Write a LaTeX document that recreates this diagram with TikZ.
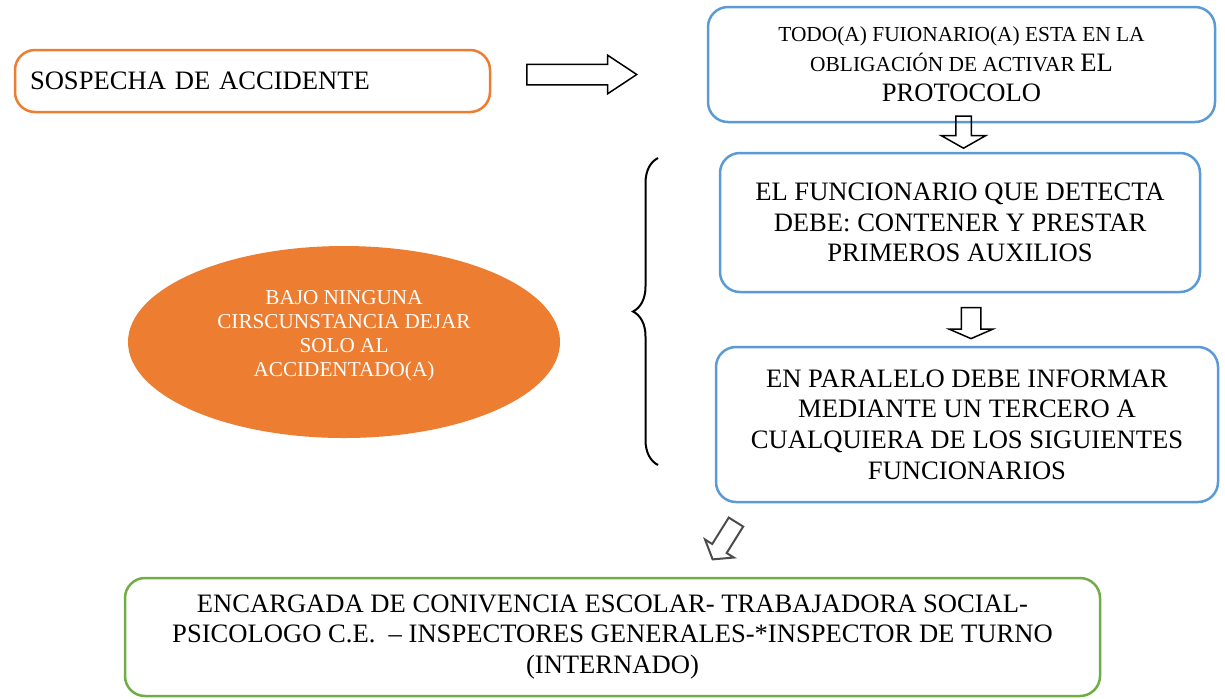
\documentclass[tikz,border=0pt]{standalone}
\usepackage{fontspec}
\setmainfont{Liberation Serif}
\usetikzlibrary{shapes.geometric,shapes.arrows}
\usetikzlibrary{decorations.pathreplacing}

\definecolor{naranjo}{RGB}{237,125,49}
\definecolor{azul}{RGB}{91,155,213}
\definecolor{verde}{RGB}{112,173,71}

\tikzset{
  caja/.style={draw=#1, line width=1.25pt, rounded corners=10pt, align=center,
    font=\fontsize{13.3}{15.3}\selectfont},
  flecha/.style={single arrow, draw=black, line width=0.75pt, inner xsep=0pt,
    minimum width=0pt},
}

\begin{document}
\begin{tikzpicture}[x=0.5pt,y=0.5pt]
\useasboundingbox (0,0) rectangle (1225,-698);
% fila de arriba
\node[caja=naranjo, minimum width=237.5pt, minimum height=31pt, inner xsep=7.5pt,
  text width=222.5pt, align=left] (sospecha) at (252.5,-81) {SOSPECHA DE ACCIDENTE};
\node[flecha, minimum height=55pt, inner ysep=4.75pt, single arrow head extend=4.5pt,
  single arrow tip angle=67] (flecha1) at (574,-74.5) {}; % hacia la derecha
\node[caja=azul, minimum width=253.5pt, minimum height=57.5pt,
  font=\fontsize{10.7}{15}\selectfont] (todo) at (961.5,-64.5)
  {TODO(A) FUIONARIO(A) ESTA EN LA\\ OBLIGACIÓN DE ACTIVAR {\fontsize{13.3}{15}\selectfont EL}\\
   {\fontsize{13.3}{15}\selectfont PROTOCOLO}};
\node[flecha, rotate=-90, minimum height=16pt, inner ysep=3.5pt,
  single arrow head extend=7.25pt, single arrow tip angle=121] (flecha2) at (963.5,-130) {};
% columna derecha
\node[caja=azul, minimum width=240pt, minimum height=69.5pt] (detecta) at (960,-222.5)
  {EL FUNCIONARIO QUE DETECTA\\ DEBE: CONTENER Y PRESTAR\\ PRIMEROS AUXILIOS};
\node[flecha, rotate=-90, minimum height=15.5pt, inner ysep=4.5pt,
  single arrow head extend=6pt, single arrow tip angle=133] (flecha3) at (971,-321) {};
\node[caja=azul, minimum width=251pt, minimum height=77.5pt] (informar) at (967,-424.5)
  {EN PARALELO DEBE INFORMAR\\ MEDIANTE UN TERCERO A\\ CUALQUIERA DE LOS SIGUIENTES\\ FUNCIONARIOS};
% elipse y llave
\node[ellipse, fill=naranjo, minimum width=216pt, minimum height=96pt, align=center,
  text=white, font=\fontsize{10.6}{12}\selectfont] (aviso) at (344,-342)
  {BAJO NINGUNA\\ CIRSCUNSTANCIA DEJAR\\ SOLO AL\\ ACCIDENTADO(A)\\[-3pt]};
\coordinate (llaveabajo) at (658,-465);
\coordinate (llavearriba) at (658,-158);
\draw[line width=1pt, decorate, decoration={brace, amplitude=12.5pt}] (llaveabajo) -- (llavearriba);
% abajo
\node[flecha, draw=black!70, line width=1pt, rotate=238, minimum height=22pt, inner ysep=3.75pt,
  single arrow head extend=4.25pt, single arrow tip angle=106] (flecha4) at (726,-538) {};
\node[caja=verde, minimum width=487.5pt, minimum height=59pt] (encargada) at (612.5,-637)
  {ENCARGADA DE CONIVENCIA ESCOLAR- TRABAJADORA SOCIAL-\\ PSICOLOGO C.E.\ \ -- INSPECTORES GENERALES-*INSPECTOR DE TURNO\\ (INTERNADO)};
\end{tikzpicture}
\end{document}
